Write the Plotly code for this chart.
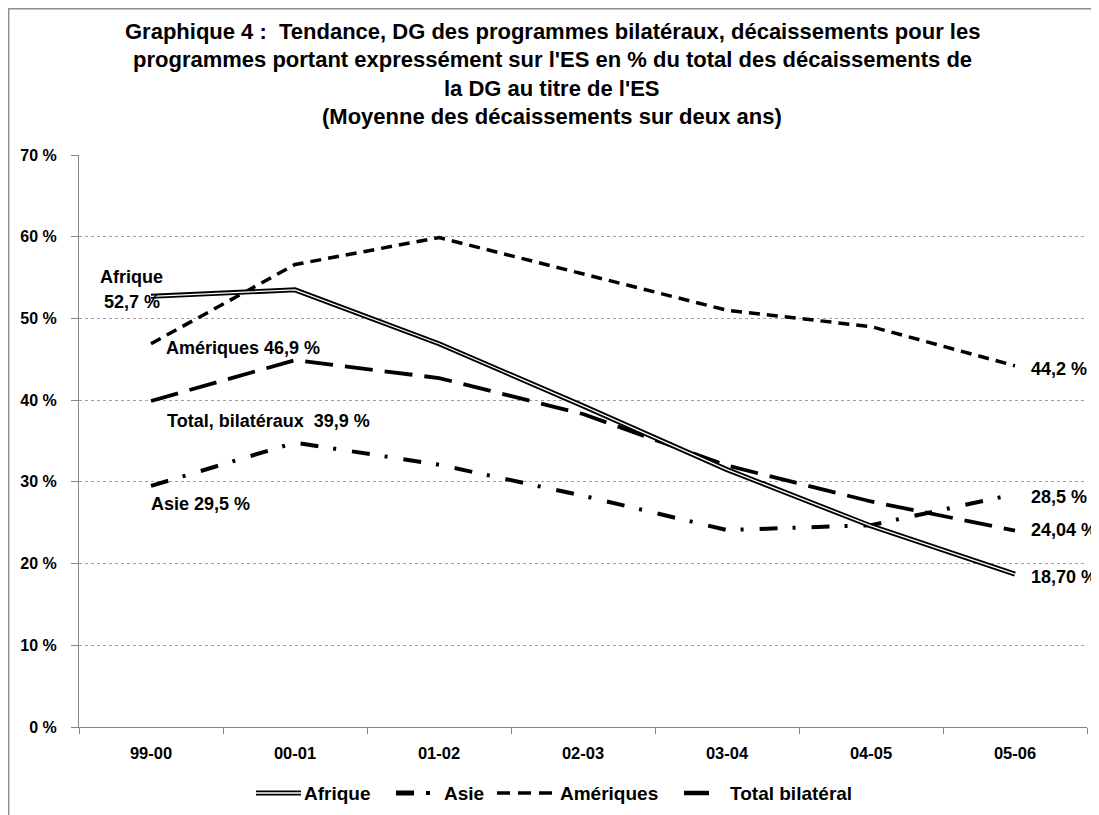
import plotly.graph_objects as go

categories = ["99-00", "00-01", "01-02", "02-03", "03-04", "04-05", "05-06"]
afrique = [52.7, 53.5, 46.9, 39.3, 31.5, 24.6, 18.70]
asie = [29.5, 34.8, 32.1, 28.3, 24.1, 24.7, 28.5]
ameriques = [46.9, 56.6, 59.9, 55.5, 51.0, 49.0, 44.2]
total = [39.9, 44.9, 42.7, 38.3, 32.0, 27.6, 24.04]
yticks = [0, 10, 20, 30, 40, 50, 60, 70]
ytick_text = ["0 %", "10 %", "20 %", "30 %", "40 %", "50 %", "60 %", "70 %"]
title_lines = [
    "Graphique 4 :  Tendance, DG des programmes bilatéraux, décaissements pour les",
    "programmes portant expressément sur l'ES en % du total des décaissements de",
    "la DG au titre de l'ES",
    "(Moyenne des décaissements sur deux ans)",
]

FONT = "Liberation Sans"
OFF = 8  # page body margin
W, H = 1099 - OFF, 815 - OFF
L, T = 79 - OFF, 155 - OFF
R, B = W - (1087 - OFF), H - (727 - OFF)
pw, ph = W - L - R, H - T - B


def px(rx):
    return (rx - OFF - L) / pw


def py(ry):
    return (T + ph - (ry - OFF)) / ph


fig = go.Figure()
fig.add_trace(go.Scatter(x=categories, y=total, mode="lines", name="Total bilatéral",
                         line=dict(color="black", width=3.8, dash="28px,12px")))
fig.add_trace(go.Scatter(x=categories, y=ameriques, mode="lines", name="Amériques",
                         line=dict(color="black", width=3.5, dash="11px,7px")))
fig.add_trace(go.Scatter(x=categories, y=asie, mode="lines", name="Asie",
                         line=dict(color="black", width=4, dash="18px,15px,3px,16px")))
fig.add_trace(go.Scatter(x=categories, y=afrique, mode="lines", name="Afrique",
                         line=dict(color="black", width=5)))
fig.add_trace(go.Scatter(x=categories, y=afrique, mode="lines", name="Afrique (intérieur)",
                         hoverinfo="skip", line=dict(color="white", width=1.3)))

annotations = []
LBL = 18
# data labels: (text, left x, center y) in reference pixels
labels = [
    ("Afrique", 98, 277),
    ("52,7 %", 102, 302),
    ("Amériques 46,9 %", 164, 348),
    ("Total, bilatéraux  39,9 %", 165, 421),
    ("Asie 29,5 %", 149, 504),
    ("44,2 %", 1029, 369),
    ("28,5 %", 1029, 497),
    ("24,04 %", 1029, 530),
    ("18,70 %", 1029, 577),
]
for text, lx, cy in labels:
    annotations.append(dict(x=px(lx), y=py(cy), xref="paper", yref="paper",
                            text=f"<b>{text}</b>", showarrow=False,
                            xanchor="left", yanchor="middle",
                            font=dict(family=FONT, size=LBL, color="black")))

# title lines
for i, line in enumerate(title_lines):
    annotations.append(dict(x=px(552), y=py(31.5 + i * 28.4), xref="paper", yref="paper",
                            text=f"<b>{line}</b>", showarrow=False,
                            xanchor="center", yanchor="middle",
                            font=dict(family=FONT, size=22, color="black")))

shapes = []
# manual legend
LEG_Y = 793
legend_items = [
    ("Afrique", 302),
    ("Asie", 442),
    ("Amériques", 558),
    ("Total bilatéral", 728),
]
for text, lx in legend_items:
    annotations.append(dict(x=px(lx), y=py(LEG_Y), xref="paper", yref="paper",
                            text=f"<b>{text}</b>", showarrow=False,
                            xanchor="left", yanchor="middle",
                            font=dict(family=FONT, size=19, color="black")))


def seg(x0, x1, width, dash="solid", color="black"):
    shapes.append(dict(type="line", xref="paper", yref="paper",
                       x0=px(x0), x1=px(x1), y0=py(LEG_Y), y1=py(LEG_Y),
                       line=dict(color=color, width=width, dash=dash)))


seg(256, 301, 5)
seg(256, 301, 1.3, color="white")
seg(396, 414, 5)
seg(426, 430, 4)
seg(497, 553, 3.5, dash="13px,8px")
seg(684, 709, 4.5)

# chart frame
shapes.append(dict(type="rect", xref="paper", yref="paper",
                   x0=(0.7 - L) / pw, x1=(W + 20 - L) / pw,
                   y0=-(H + 20 - (T + ph)) / ph, y1=(T + ph - 0.7) / ph,
                   line=dict(color="#8c8c8c", width=1.4), layer="below"))

fig.update_layout(
    width=W, height=H, autosize=False,
    margin=dict(l=L, r=R, t=T, b=B, autoexpand=False),
    paper_bgcolor="white", plot_bgcolor="white",
    font=dict(family=FONT, color="black"),
    showlegend=False,
    xaxis=dict(type="category", range=[-0.5, 6.5], showgrid=False,
               tickvals=categories, ticktext=[f"<b>{c}</b>" for c in categories],
               showline=True, linecolor="#868686", linewidth=1,
               ticks="outside", tickson="boundaries", ticklen=6, tickcolor="#868686",
               tickfont=dict(family=FONT, size=16.5, color="black"),
               ticklabelstandoff=11),
    yaxis=dict(range=[0, 70], tickvals=yticks, ticktext=[f"<b>{t}</b>" for t in ytick_text],
               showgrid=True, gridcolor="#a0a0a0", griddash="dot", gridwidth=1,
               showline=True, linecolor="#868686", linewidth=1,
               ticks="outside", ticklen=7, tickcolor="#868686",
               tickfont=dict(family=FONT, size=16, color="black"), zeroline=False,
               ticklabelstandoff=11),
    annotations=annotations,
    shapes=shapes,
)

fig.write_html("out.html")
